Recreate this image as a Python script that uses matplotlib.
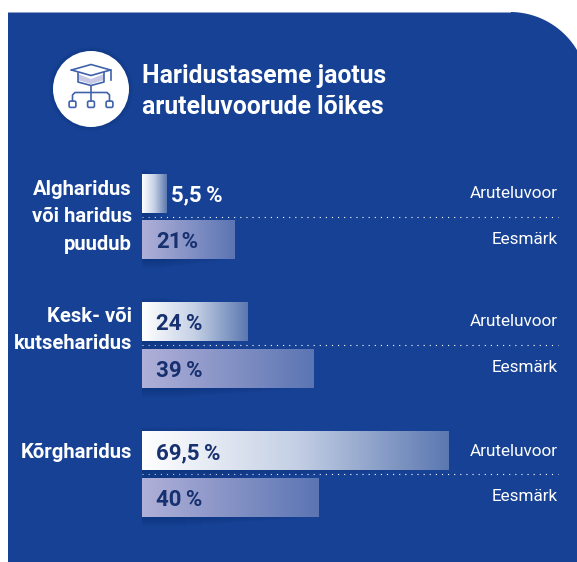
import numpy as np
import matplotlib
matplotlib.use('Agg')
import matplotlib.pyplot as plt
from matplotlib.patches import Circle, PathPatch, Rectangle, FancyBboxPatch, Polygon
from matplotlib.path import Path
from matplotlib.colors import LinearSegmentedColormap

# data
categories = ['Algharidus\nvõi haridus\npuudub', 'Kesk- või\nkutseharidus', 'Kõrgharidus']
discussion = [5.5, 24, 69.5]
target = [21, 39, 40]
discussion_labels = ['5,5\u2009%', '24\u2009%', '69,5\u2009%']
target_labels = ['21%', '39\u2009%', '40\u2009%']
series_names = ['Aruteluvoor', 'Eesmärk']
title = 'Haridustaseme jaotus\naruteluvoorude lõikes'

# layout, in pixels of the picture
W, H = 577, 562
bar_left = 142
px_per_pct = 4.405
disc_y = [193.5, 322, 451]
targ_y = [240, 369, 497.5]
line_y = [216.5, 345, 473.5]
cat_y = [217, 330, 452]
bar_h = 38.5

BLUE = '#164194'
DARK = '#17306f'
FAMILY = ['Roboto', 'DejaVu Sans']
disc_cmap = LinearSegmentedColormap.from_list('disc', ['#ffffff', '#c5d0e5', '#5b78b0'])
targ_cmap = LinearSegmentedColormap.from_list('targ', ['#b0b0d8', '#5b75b3'])

fig = plt.figure(figsize=(W / 100, H / 100), dpi=100, facecolor='white')

# background panel and icon, in pixel coords
bg = fig.add_axes([0, 0, 1, 1])
bg.set_xlim(0, W)
bg.set_ylim(H, 0)
bg.axis('off')

# round top right corner, goes off the picture on the right
ang = np.linspace(0, np.arcsin(67 / 78), 40)
corner = np.column_stack([510 + 78 * np.sin(ang), 90 - 78 * np.cos(ang)])
pts = np.vstack([[(8, H), (8, 12)], corner, [(W, H)]])
bg.add_patch(Polygon(pts, closed=True, fc=BLUE, ec='none'))
bg.plot([8, 510], [11.5, 11.5], color='#8fa3cb', lw=0.7)

for k in range(6):
    bg.add_patch(Circle((91, 89), 38 + 4 - k, fc='#0c2a68', ec='none', alpha=0.05))
bg.add_patch(Circle((91, 89), 38, fc='white', ec='none'))

ICON = '#3f62ab'
bg.add_patch(PathPatch(Path([(78, 74), (91, 79), (104, 74), (104, 80), (91, 84), (78, 80), (78, 74)]),
                       fc='#c6c8e6', ec='none'))
bg.plot([71.5, 91, 110.5, 91, 71.5], [70, 64.5, 70, 75.5, 70], color=ICON, lw=1.2)
bg.plot([78, 78, 91, 104, 104], [73, 82, 85.5, 82, 73], color=ICON, lw=1.2)
bg.plot([110.5, 110.5], [70, 80], color=ICON, lw=1.2)
bg.plot([91, 91], [85.5, 101], color=ICON, lw=1.2)
bg.plot([72.5, 72.5, 75, 107, 109.5, 109.5], [101, 95, 92.5, 92.5, 95, 101], color=ICON, lw=1.2)
for bx in [72.5, 91, 109.5]:
    bg.add_patch(FancyBboxPatch((bx - 3, 101.5), 6, 5.5, boxstyle='round,pad=0.4,rounding_size=1.5',
                                fc='white', ec=ICON, lw=1.2))

bg.text(142, 91.5, title, color='white', fontsize=17.8, fontweight='bold', family=FAMILY,
        ha='left', va='center', linespacing=1.42)

for name, y, in zip(categories, cat_y):
    bg.text(132, y, name, color='white', fontsize=14.6, fontweight='bold', family=FAMILY,
            ha='right', va='center', linespacing=1.56)

for i in range(len(categories)):
    bg.plot([bar_left, 558], [line_y[i], line_y[i]], color='white', lw=0.8, ls=(0, (1, 4.5)), zorder=3)
    bg.text(558, disc_y[i], series_names[0], color='white', fontsize=12.3, family=FAMILY,
            ha='right', va='center')
    bg.text(558, targ_y[i] - 1, series_names[1], color='white', fontsize=12.3, family=FAMILY,
            ha='right', va='center')

# bars: x in percent, y in picture pixels
ax = fig.add_axes([bar_left / W, 0, 1 - bar_left / W, 1])
ax.patch.set_alpha(0)
ax.axis('off')
xmax = (W - bar_left) / px_per_pct
grad = np.linspace(0, 1, 256).reshape(1, -1)


def draw_bars(values, ys, cmap):
    bars = ax.barh(ys, values, height=bar_h, color='none', zorder=2)
    for bar in bars:
        x0, x1 = bar.get_x(), bar.get_x() + bar.get_width()
        y0, y1 = bar.get_y(), bar.get_y() + bar.get_height()
        # soft shadow, darkest at bottom left, fades out along the bar
        for k in range(8):
            g = 8 - k
            ax.add_patch(Rectangle((x0 - g / px_per_pct, y0 - g + 3), (x1 - x0) * (0.25 + 0.09 * k) + g / px_per_pct,
                                   (y1 - y0) + 2 * g - 2, fc='#0b2560', ec='none', alpha=0.04, zorder=1))
        ax.imshow(grad, cmap=cmap, extent=(x0, x1, y1, y0), aspect='auto', zorder=2, interpolation='bilinear')


draw_bars(discussion, disc_y, disc_cmap)
draw_bars(target, targ_y, targ_cmap)
ax.set_xlim(0, xmax)
ax.set_ylim(H, 0)

for v, lab, y in zip(discussion, discussion_labels, disc_y):
    # the short bar has its label outside
    if v < 10:
        ax.text(v + 1.1, y + 2, lab, color='white', fontsize=16, fontweight='bold',
                family=FAMILY, ha='left', va='center', zorder=4)
    else:
        ax.text(3.2, y + 2, lab, color=DARK, fontsize=16, fontweight='bold',
                family=FAMILY, ha='left', va='center', zorder=4)
for lab, y in zip(target_labels, targ_y):
    ax.text(3.2, y + 2, lab, color=DARK, fontsize=16, fontweight='bold',
            family=FAMILY, ha='left', va='center', zorder=4)

fig.savefig('out.png', dpi=100, facecolor='white')
